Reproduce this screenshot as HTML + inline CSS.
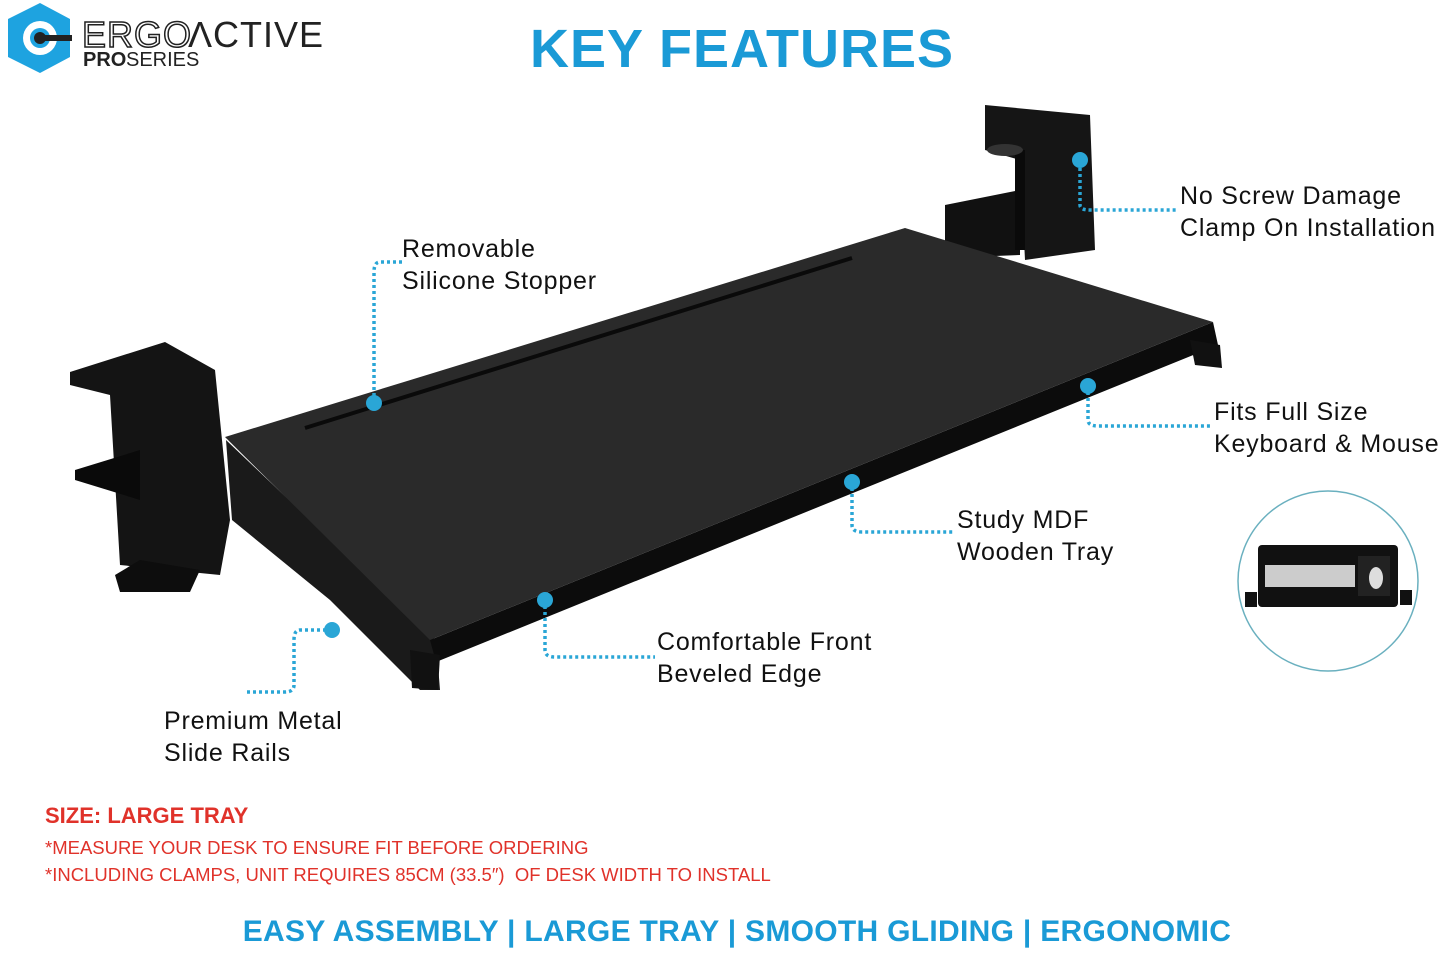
<!DOCTYPE html>
<html><head><meta charset="utf-8"><style>
body{margin:0;width:1449px;height:956px;background:#fff;overflow:hidden;font-family:"Liberation Sans",sans-serif;position:relative}
.t{position:absolute;font-size:25px;color:#111;line-height:32px;letter-spacing:.8px}
</style></head><body>
<svg width="1449" height="956" style="position:absolute;left:0;top:0">
<polygon points="40,3 70,19 70,57 40,73 8,57 8,19" fill="#1ea3e0"/>
<circle cx="40" cy="38" r="17" fill="#fff"/>
<circle cx="40" cy="38" r="10" fill="#1ea3e0"/>
<circle cx="40" cy="38" r="6" fill="#222"/>
<rect x="40" y="35" width="32" height="6" fill="#222"/>
<text x="82" y="47" font-family="Liberation Sans" font-size="36" fill="none" stroke="#222" stroke-width="1.5" letter-spacing="1">ERGO</text>
<text x="188" y="47" font-family="Liberation Sans" font-size="36" fill="#222" letter-spacing="1">ΛCTIVE</text>
<text x="83" y="66" font-family="Liberation Sans" font-size="20" font-weight="bold" fill="#222">PRO</text>
<text x="126" y="66" font-family="Liberation Sans" font-size="20" fill="#222">SERIES</text>
<text x="742" y="67" text-anchor="middle" font-family="Liberation Sans" font-size="54" font-weight="bold" fill="#1a9ad6" letter-spacing="1">KEY FEATURES</text>
<polygon points="945,205 1020,190 1020,255 945,258" fill="#111"/>
<polygon points="985,105 1090,115 1095,250 1025,260 1020,160 985,150" fill="#151515"/>
<rect x="1015" y="150" width="10" height="100" fill="#0a0a0a"/>
<ellipse cx="1005" cy="150" rx="18" ry="6" fill="#333"/>
<polygon points="226,440 232,520 330,600 420,690 440,690 436,640" fill="#1a1a1a"/>
<polygon points="430,640 1213,322 1218,345 436,662" fill="#0c0c0c"/>
<polygon points="225,437 905,228 1213,322 430,640" fill="#2a2a2a"/>
<line x1="305" y1="428" x2="852" y2="258" stroke="#0a0a0a" stroke-width="4"/>
<polygon points="1190,340 1220,345 1222,368 1195,365" fill="#111"/>
<polygon points="410,650 440,655 438,690 412,688" fill="#111"/>
<polygon points="70,372 165,342 215,370 230,520 220,575 120,565 110,395 70,385" fill="#141414"/>
<polygon points="75,470 140,450 140,500 75,480" fill="#0a0a0a"/>
<polygon points="115,575 140,560 200,570 190,592 120,592" fill="#0d0d0d"/>
<circle cx="1328" cy="581" r="90" fill="#fff" stroke="#6ab0bf" stroke-width="1.5"/>
<rect x="1258" y="545" width="140" height="62" rx="4" fill="#111"/>
<rect x="1265" y="565" width="90" height="22" fill="#ccc"/>
<rect x="1358" y="556" width="32" height="40" fill="#222"/>
<ellipse cx="1376" cy="578" rx="7" ry="11" fill="#ddd"/>
<rect x="1245" y="592" width="12" height="15" fill="#111"/><rect x="1400" y="590" width="12" height="15" fill="#111"/>
<g stroke="#2aa6d6" stroke-width="3.5" stroke-dasharray="3,3" fill="none">
<path d="M1080,162 V205 Q1080,210 1090,210 H1178"/>
<path d="M402,262 H380 Q374,262 374,272 V402"/>
<path d="M1088,386 V420 Q1088,426 1098,426 H1212"/>
<path d="M852,482 V525 Q852,532 862,532 H955"/>
<path d="M545,600 V650 Q545,657 555,657 H655"/>
<path d="M332,630 H300 Q294,630 294,640 V685 Q294,692 285,692 H246"/>
</g>
<g fill="#2aa6d6">
<circle cx="1080" cy="160" r="8"/><circle cx="374" cy="403" r="8"/><circle cx="1088" cy="386" r="8"/>
<circle cx="852" cy="482" r="8"/><circle cx="545" cy="600" r="8"/><circle cx="332" cy="630" r="8"/>
</g>
</svg>
<div class="t" style="left:1180px;top:180px">No Screw Damage<br>Clamp On Installation</div>
<div class="t" style="left:402px;top:233px">Removable<br>Silicone Stopper</div>
<div class="t" style="left:1214px;top:396px">Fits Full Size<br>Keyboard &amp; Mouse</div>
<div class="t" style="left:957px;top:504px">Study MDF<br>Wooden Tray</div>
<div class="t" style="left:657px;top:626px">Comfortable Front<br>Beveled Edge</div>
<div class="t" style="left:164px;top:705px">Premium Metal<br>Slide Rails</div>
<div style="position:absolute;left:45px;top:803px;color:#e0322a;font-weight:bold;font-size:22px">SIZE: LARGE TRAY</div>
<div style="position:absolute;left:45px;top:834px;color:#e0322a;font-size:18.5px;line-height:27px">*MEASURE YOUR DESK TO ENSURE FIT BEFORE ORDERING<br>*INCLUDING CLAMPS, UNIT REQUIRES 85CM (33.5″)&nbsp; OF DESK WIDTH TO INSTALL</div>
<div style="position:absolute;left:0;width:1474px;top:915px;text-align:center;color:#1a9ad6;font-weight:bold;font-size:30px;letter-spacing:0.3px">EASY ASSEMBLY | LARGE TRAY | SMOOTH GLIDING | ERGONOMIC</div>
</body></html>
